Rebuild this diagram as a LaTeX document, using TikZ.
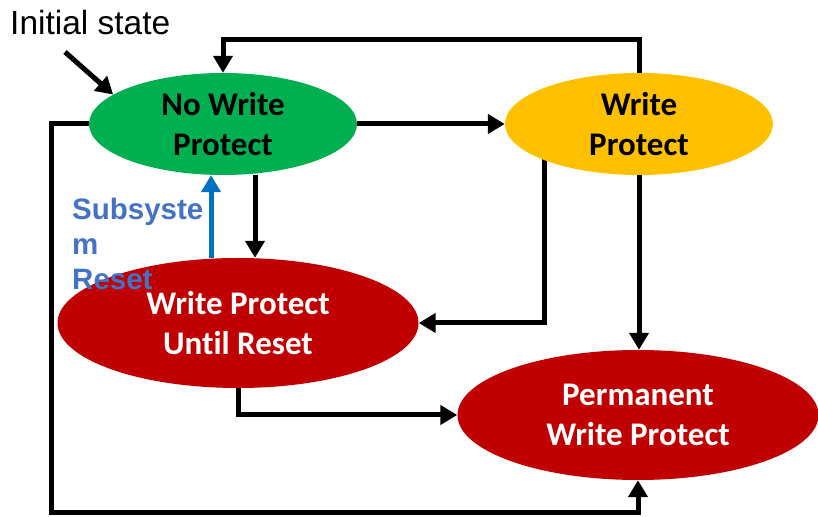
\documentclass[tikz,border=0pt]{standalone}
\usepackage{fontspec}
\usetikzlibrary{shapes.geometric, arrows.meta, backgrounds}
\newfontfamily\calib[Ligatures=NoCommon]{Carlito}
\newfontfamily\arialf{Liberation Sans}
\definecolor{wpgreen}{HTML}{00B050}
\definecolor{wpyellow}{HTML}{FFC000}
\definecolor{wpred}{HTML}{C00000}
\definecolor{rstblue}{HTML}{0070C0}
\definecolor{lblblue}{HTML}{4472C4}

\begin{document}
\begin{tikzpicture}[x=1pt, y=1pt,
    state/.style={ellipse, inner sep=0pt, align=center,
        font=\calib\bfseries\fontsize{33}{40}\selectfont},
    small/.style={state, minimum width=268pt, minimum height=102pt},
    big/.style={state, minimum width=361pt, minimum height=130pt, text=white, fill=wpred},
    arr/.style={line width=5pt, -{Triangle[length=17pt,width=19pt]}}]
    \useasboundingbox (0,0) rectangle (818,516);
    \node[small, fill=wpgreen] (nwp) at (223,392) {No Write\\Protect};
    \node[small, fill=wpyellow] (wp) at (639,392) {Write\\Protect};
    \node[big] (wpur) at (238,193) {Write Protect\\Until Reset};
    \node[big] (pwp) at (638,101) {Permanent\\Write Protect};
    \node[anchor=base west, inner sep=0pt, font=\arialf\fontsize{33.5}{38}\selectfont] (init) at (10,481) {Initial state};
    \coordinate (initarr) at (65,464);
    \coordinate (tr) at (639,476);
    \coordinate (lb) at (51,4);
    \draw[arr] (initarr) -- (nwp.165);
    \draw[arr] (wp.north) -- (tr) -| (nwp.north);
    \draw[arr] (nwp.east) -- (wp.west);
    \draw[arr] ([xshift=32pt]nwp.south) -- ([xshift=32pt]nwp.south |- wpur.north);
    \draw[arr, rstblue] ([xshift=-12pt]nwp.south |- wpur.north) -- ([xshift=-12pt]nwp.south);
    \begin{scope}[on background layer]
        \draw[arr] ([xshift=-95pt]wp.center) |- (wpur.east);
    \end{scope}
    \draw[arr] (wp.south) -- (wp.south |- pwp.north);
    \draw[arr] (wpur.south) |- (pwp.west);
    \draw[arr] (nwp.west) -| (lb) -| (pwp.south);
    \node[anchor=base west, align=left, inner sep=0pt, text=lblblue,
        font=\arialf\bfseries\fontsize{29.5}{35}\selectfont] (rst) at (72,226) {Subsyste\\m\\Reset};
\end{tikzpicture}
\end{document}
